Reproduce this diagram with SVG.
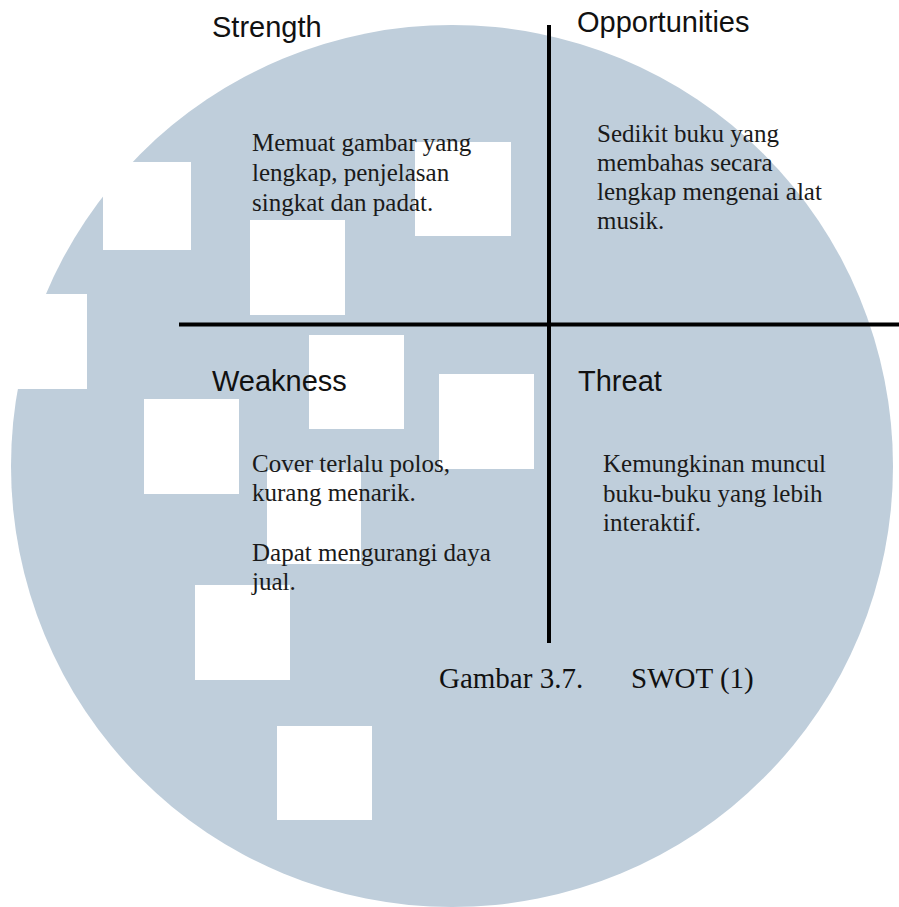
<svg xmlns="http://www.w3.org/2000/svg" width="899" height="907" viewBox="0 0 899 907">
  <style>
    .bg { fill: #bfcedb; }
    .sq { fill: #ffffff; }
    .hd { font-family: "Liberation Sans", Arial, sans-serif; font-size: 29px; fill: #111111; }
    .bd { font-family: "Liberation Serif", "Times New Roman", serif; font-size: 25px; fill: #1a1a1a; }
    .cap { font-family: "Liberation Serif", "Times New Roman", serif; font-size: 29px; fill: #111111; }
    .ln { stroke: #000000; stroke-width: 4; fill: none; }
  </style>
  <rect x="0" y="0" width="899" height="907" fill="#ffffff"/>
  <g id="background">
    <circle class="bg" cx="452" cy="466" r="441"/>
    <rect class="sq" x="103" y="162" width="88" height="88"/>
    <rect class="sq" x="250" y="220" width="95" height="95"/>
    <rect class="sq" x="415" y="142" width="96" height="94"/>
    <rect class="sq" x="-10" y="294" width="97" height="95"/>
    <rect class="sq" x="309" y="335" width="95" height="94"/>
    <rect class="sq" x="439" y="374" width="95" height="95"/>
    <rect class="sq" x="144" y="399" width="95" height="95"/>
    <rect class="sq" x="267" y="470" width="94" height="94"/>
    <rect class="sq" x="195" y="585" width="95" height="95"/>
    <rect class="sq" x="277" y="726" width="95" height="94"/>
  </g>
  <g id="connectors">
    <line class="ln" x1="179" y1="324.5" x2="899" y2="324.5"/>
    <line class="ln" x1="549" y1="25" x2="549" y2="643"/>
  </g>
  <g id="strength">
    <text class="hd" x="212" y="37">Strength</text>
    <text class="bd" x="252" y="151">Memuat gambar yang</text>
    <text class="bd" x="252" y="181">lengkap, penjelasan</text>
    <text class="bd" x="252" y="211">singkat dan padat.</text>
  </g>
  <g id="opportunities">
    <text class="hd" x="577" y="32">Opportunities</text>
    <text class="bd" x="597" y="142">Sedikit buku yang</text>
    <text class="bd" x="597" y="171">membahas secara</text>
    <text class="bd" x="597" y="200">lengkap mengenai alat</text>
    <text class="bd" x="597" y="229">musik.</text>
  </g>
  <g id="weakness">
    <text class="hd" x="212" y="391">Weakness</text>
    <text class="bd" x="252" y="472">Cover terlalu polos,</text>
    <text class="bd" x="252" y="501">kurang menarik.</text>
    <text class="bd" x="252" y="561">Dapat mengurangi daya</text>
    <text class="bd" x="252" y="590">jual.</text>
  </g>
  <g id="threat">
    <text class="hd" x="578" y="391">Threat</text>
    <text class="bd" x="603" y="472">Kemungkinan muncul</text>
    <text class="bd" x="603" y="502">buku-buku yang lebih</text>
    <text class="bd" x="603" y="531">interaktif.</text>
  </g>
  <g id="caption">
    <text class="cap" x="439" y="688">Gambar 3.7.</text>
    <text class="cap" x="631" y="688">SWOT (1)</text>
  </g>
</svg>
